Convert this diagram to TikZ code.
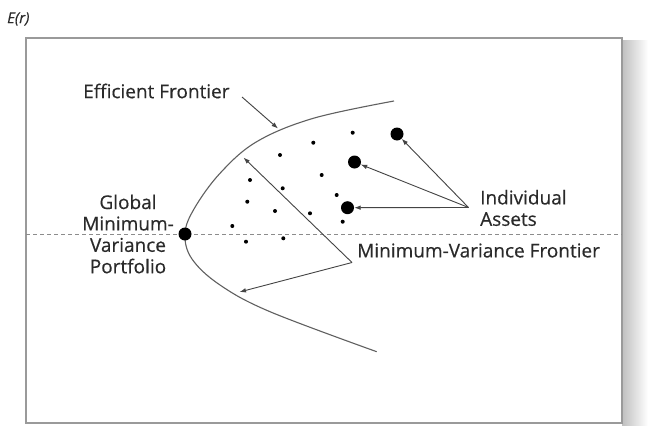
\documentclass[tikz,border=0pt]{standalone}
\usepackage{fontspec}
\setmainfont{Open Sans}
\newfontfamily\lblfont{Open Sans}[FakeBold=0.35]
\usetikzlibrary{arrows.meta}
\definecolor{txt}{HTML}{2A2A2A}
\definecolor{ln}{HTML}{444444}
\definecolor{frame}{HTML}{9A9A9A}
\begin{document}
\begin{tikzpicture}[x=1pt,y=-1pt,
  lbl/.style={font=\lblfont\fontsize{19}{21.4}\selectfont, text=txt, inner sep=0pt},
  sdot/.style={circle, fill=black, inner sep=0pt, minimum size=4pt},
  bdot/.style={circle, fill=black, inner sep=0pt, minimum size=13pt},
  curve/.style={draw=ln!85, line width=1.1pt},
  pointer/.style={draw=ln, line width=0.9pt, -{Latex[length=6.5pt,width=4.6pt]}}]
\useasboundingbox (0,0) rectangle (649,426);
% shadow on the right
\shade[left color=black!25, right color=white] (622,40) rectangle (648,426);
% frame
\draw[frame, line width=1.3pt, fill=white] (26,38) rectangle (622,423);
% axis label
\node[lbl, font=\lblfont\fontsize{15}{17}\selectfont\itshape, anchor=west] (er) at (7,19) {E(r)};
% dashed line
\coordinate (dl) at (26,234);
\coordinate (dr) at (622,234);
\draw[draw=black!45, dashed, dash pattern=on 4pt off 3pt, line width=0.8pt] (dl) -- (dr);
% frontier curve
\draw[curve] plot[smooth, tension=0.6] coordinates {(394,101) (313.3,118.3) (256.7,141.7) (220,173.3) (194,209) (185,234) (192,259) (220,285) (270,311.7) (376.7,351.7)};
% small dots
\foreach \n/\x/\y in {a/352.7/132.7, b/313.3/142.7, c/280/155, d/250/180, e/282.7/188.3, f/321.7/175, g/336.7/195, h/247.3/201.7, i/275/211, j/310/213.3, k/342.7/221.7, l/232.3/226, m/246/241.7, n/283.3/238.3}
  \node[sdot] (s\n) at (\x,\y) {};
% big dots
\node[bdot] (gmv) at (185,234) {};
\node[bdot] (ia1) at (397,134) {};
\node[bdot] (ia2) at (354.5,162) {};
\node[bdot] (ia3) at (347.5,207.7) {};
% labels
\node[lbl, anchor=west] (ef) at (83,91) {Efficient Frontier};
\node[lbl, align=center] (gl) at (128,234) {Global\\Minimum-\\Variance\\Portfolio};
\node[lbl, align=left, anchor=west] (ia) at (480,208) {Individual\\Assets};
\node[lbl, anchor=west] (mvf) at (357,250.5) {Minimum-Variance Frontier};
% efficient frontier arrow
\coordinate (efs) at (242,97);
\coordinate (eft) at (278,128.5);
\draw[pointer] (efs) -- (eft);
% individual assets arrows
\coordinate (iaj) at (468.5,207.5);
\draw[pointer] (iaj) -- (ia1);
\draw[pointer] (iaj) -- (ia2);
\draw[pointer] (iaj) -- (ia3);
% minimum-variance frontier arrows
\coordinate (mvj) at (352,262.5);
\coordinate (mvt1) at (243.5,157.5);
\coordinate (mvt2) at (239.5,292);
\draw[pointer] (mvj) -- (mvt1);
\draw[pointer] (mvj) -- (mvt2);
\end{tikzpicture}
\end{document}
